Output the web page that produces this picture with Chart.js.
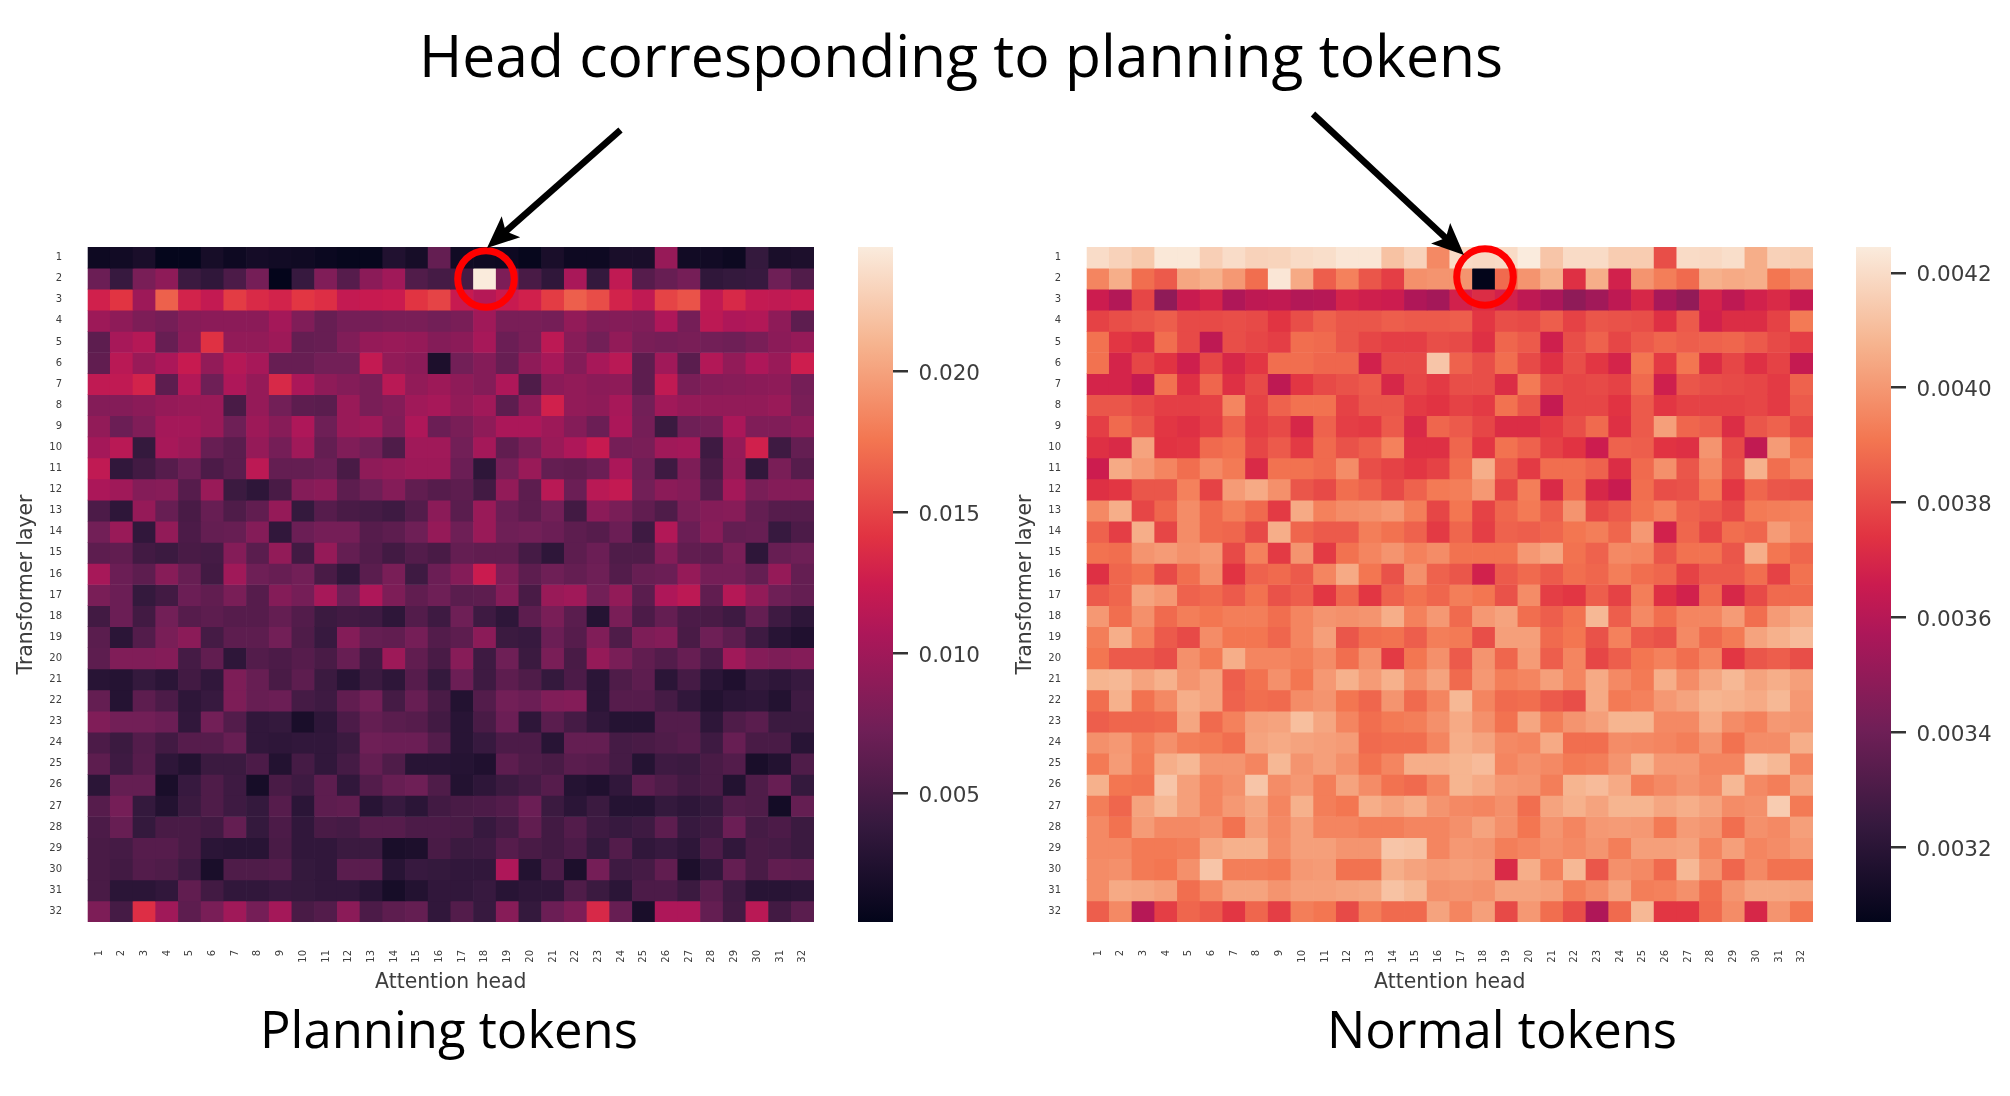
<!DOCTYPE html>
<html><head><meta charset="utf-8">
<script src="https://cdn.jsdelivr.net/npm/chart.js@4"></script>
<style>
html,body{margin:0;padding:0;background:#fff;width:2010px;height:1096px;overflow:hidden}
canvas{position:absolute}
#notes{position:absolute;left:0;top:0;z-index:5}
#notes text{font-family:"Open Sans";fill:#000}
</style></head><body>
<canvas id="heatA" width="840" height="800" style="left:0;top:240px"></canvas>
<canvas id="barA" width="160" height="700" style="left:848px;top:240px"></canvas>
<canvas id="heatB" width="840" height="800" style="left:999px;top:240px"></canvas>
<canvas id="barB" width="164" height="700" style="left:1846px;top:240px"></canvas>
<svg id="notes" width="2010" height="1096">
  <text x="961" y="77" text-anchor="middle" font-size="58.8">Head corresponding to planning tokens</text>
  <text x="449" y="1048" text-anchor="middle" font-size="50.8">Planning tokens</text>
  <text x="1502" y="1048" text-anchor="middle" font-size="50.8">Normal tokens</text>
  <circle cx="486" cy="279" r="28.3" fill="none" stroke="#ff0000" stroke-width="7"/>
  <circle cx="1485" cy="277" r="28.3" fill="none" stroke="#ff0000" stroke-width="7"/>
  <g id="arrows"></g>
</svg>
<script>
const columnLabels = Array.from({length:32},(_,i)=>String(i+1));
const layerLabels = columnLabels.slice();

// Planning tokens, in units of 0.0001
const planningRows = [
[12,15,20,6,6,18,12,17,15,13,10,7,7,25,18,66,14,13,12,7,20,12,12,20,20,95,15,15,11,38,20,22],
[70,40,78,90,42,35,52,76,5,40,82,58,88,100,55,48,48,244,80,50,35,105,38,118,58,68,76,35,38,40,72,55],
[128,142,98,165,130,120,146,135,130,143,138,120,122,124,142,150,122,112,122,128,146,164,155,130,118,150,158,118,134,120,118,122],
[98,90,80,76,86,88,88,88,102,82,68,76,76,78,78,74,78,100,78,78,76,92,82,84,82,108,76,116,108,110,90,62],
[62,104,112,68,88,140,92,92,98,66,68,82,94,96,94,84,88,104,70,78,116,86,74,92,78,76,78,74,72,78,88,94],
[64,114,96,106,122,92,112,104,68,68,74,74,120,92,88,22,74,84,68,90,104,84,104,114,62,100,60,110,92,108,96,126],
[118,118,130,62,110,72,108,94,134,106,90,84,78,114,92,98,90,84,108,54,88,92,88,90,62,118,78,84,86,88,90,76],
[84,84,88,94,96,96,50,94,74,62,60,96,78,84,100,104,92,100,62,88,128,92,90,104,74,100,94,92,92,92,96,78],
[92,70,82,102,102,96,72,98,86,108,72,96,100,82,108,70,78,90,106,106,98,84,70,106,76,42,72,76,106,82,82,88],
[102,114,38,104,98,68,60,94,76,100,66,82,74,54,100,100,74,102,64,78,96,108,122,76,78,100,102,44,94,128,44,66],
[118,36,46,58,70,52,60,116,66,66,70,50,90,94,98,98,70,34,76,96,66,64,70,106,72,44,80,50,92,36,78,58],
[106,100,84,86,58,96,42,34,50,84,88,62,72,84,64,58,62,46,92,62,114,70,114,120,74,88,84,58,102,78,84,84],
[52,34,94,68,50,68,54,64,94,38,58,50,48,44,56,88,60,96,70,62,74,46,88,78,64,54,78,84,86,66,58,58],
[74,96,36,92,52,66,68,84,36,70,76,76,58,62,72,94,72,96,72,74,70,62,58,70,44,110,70,86,66,68,40,52],
[62,64,46,42,50,48,84,60,92,46,94,66,56,46,56,50,66,64,64,48,34,62,70,54,54,84,64,62,78,34,68,72],
[104,70,62,86,68,46,100,72,68,74,50,36,60,78,44,70,84,124,80,62,72,66,72,56,68,70,94,76,76,66,94,66],
[78,70,38,46,70,64,78,58,84,76,104,72,108,80,64,72,60,62,84,50,96,100,74,92,60,108,116,64,112,92,72,66],
[46,70,46,74,58,62,58,58,66,56,42,46,44,34,56,44,72,44,34,62,78,60,28,78,52,66,52,50,44,66,44,34],
[60,32,56,78,88,48,62,62,74,54,40,84,66,64,76,56,62,88,42,40,70,58,82,54,80,84,50,72,62,44,30,24],
[62,82,82,84,48,64,34,56,52,58,50,68,46,98,64,50,86,44,72,42,78,50,94,78,64,56,68,52,100,84,80,84],
[30,28,38,32,46,36,80,68,50,62,42,30,42,34,58,38,70,44,62,54,38,52,32,54,62,32,48,32,24,38,34,40],
[66,28,62,52,34,40,80,68,70,48,44,64,74,48,68,50,26,56,74,70,82,84,32,58,58,48,36,26,32,34,26,44],
[82,74,74,70,36,74,56,36,38,20,34,52,66,60,58,46,30,50,70,34,60,48,36,28,28,56,56,34,54,60,42,42],
[52,42,56,46,58,58,68,36,34,36,36,42,72,70,70,56,30,40,52,52,30,66,66,48,50,54,58,44,68,50,50,30],
[62,44,58,34,26,42,42,52,26,48,36,48,66,54,30,30,28,24,62,54,50,60,58,48,28,44,42,50,56,20,26,54],
[32,66,66,20,40,54,44,18,50,44,62,36,56,68,72,54,26,34,42,48,58,28,24,36,62,54,46,50,26,54,68,38],
[58,76,38,26,42,54,44,38,58,32,62,64,30,40,32,46,50,52,56,70,42,32,42,28,28,38,34,38,56,54,16,66],
[52,68,38,50,50,46,66,38,52,36,50,48,58,58,52,52,50,40,48,64,46,56,44,40,44,62,40,44,70,48,52,42],
[50,48,58,58,50,32,30,30,50,36,36,42,42,20,22,50,42,44,58,50,46,52,38,56,36,40,34,52,36,50,48,42],
[50,46,56,54,44,20,54,54,56,38,36,60,60,30,40,38,36,36,108,26,52,22,76,44,48,64,22,36,66,50,64,62],
[50,32,32,36,64,46,36,36,40,38,36,36,30,18,26,36,36,40,30,34,34,54,42,32,52,52,42,60,44,30,30,32],
[80,48,138,100,62,78,100,76,102,50,56,88,52,62,66,36,56,40,86,38,70,80,134,68,20,108,108,66,46,114,46,60]
];

// Normal tokens, in units of 0.000001
const normalRows = [
[4200,4170,4140,4235,4235,4160,4200,4170,4175,4195,4205,4230,4230,4120,4170,3960,4195,4190,4195,4245,4130,4195,4195,4150,4150,3810,4195,4190,4205,4060,4165,4155],
[3950,4060,3890,3840,4040,4070,4000,3890,4230,4050,3850,3940,3830,3770,3980,3990,3990,3070,3880,3990,4070,3730,4060,3680,3990,3930,3880,4070,4050,4060,3910,3970],
[3660,3590,3790,3490,3650,3690,3580,3620,3630,3590,3600,3690,3670,3660,3580,3550,3680,3720,3680,3620,3570,3490,3540,3620,3700,3560,3500,3690,3620,3680,3710,3640],
[3780,3810,3830,3850,3800,3800,3810,3800,3745,3810,3860,3830,3830,3850,3840,3840,3850,3750,3810,3800,3850,3780,3830,3820,3810,3730,3840,3680,3720,3720,3780,3920],
[3900,3750,3720,3890,3800,3620,3810,3790,3770,3890,3880,3830,3790,3770,3770,3810,3800,3730,3870,3840,3670,3810,3860,3790,3840,3870,3850,3860,3870,3840,3800,3770],
[3900,3690,3790,3740,3670,3790,3700,3750,3890,3890,3870,3870,3680,3800,3800,4130,3860,3810,3890,3800,3730,3810,3750,3690,3910,3760,3910,3720,3790,3730,3780,3640],
[3690,3690,3640,3900,3730,3870,3730,3800,3620,3750,3800,3820,3840,3700,3790,3760,3810,3810,3720,3920,3810,3790,3800,3780,3880,3670,3830,3810,3800,3790,3760,3860],
[3830,3830,3800,3770,3770,3780,3950,3780,3860,3900,3900,3780,3830,3830,3760,3740,3780,3760,3900,3830,3640,3790,3790,3740,3840,3750,3780,3780,3780,3790,3760,3840],
[3770,3880,3830,3750,3730,3770,3860,3770,3800,3700,3860,3770,3760,3840,3710,3870,3840,3790,3720,3720,3760,3810,3880,3730,3840,4020,3870,3850,3720,3830,3860,3800],
[3730,3710,4030,3740,3750,3880,3900,3790,3840,3760,3880,3820,3850,3940,3730,3730,3870,3750,3900,3860,3780,3740,3660,3860,3850,3740,3730,3990,3800,3630,4010,3900],
[3660,4050,4000,3950,3890,3960,3920,3710,3900,3900,3880,3970,3810,3780,3750,3780,3890,4060,3850,3760,3890,3890,3860,3720,3880,3980,3830,3960,3820,4070,3890,3950],
[3730,3750,3830,3830,3940,3780,4010,4050,3980,3830,3800,3890,3860,3800,3860,3920,3930,4000,3790,3930,3710,3880,3700,3650,3890,3810,3820,3920,3750,3870,3830,3820],
[3960,4060,3790,3870,3970,3880,3930,3880,3760,4050,3940,3970,3980,4000,3930,3790,3910,3780,3870,3920,3850,3990,3800,3840,3900,3940,3860,3840,3800,3920,3930,3940],
[3860,3770,4060,3790,3970,3880,3870,3800,4060,3870,3840,3840,3930,3900,3860,3760,3870,3770,3860,3850,3870,3910,3930,3870,4000,3680,3870,3790,3890,3870,4010,3950],
[3900,3890,3990,4010,3980,4000,3800,3940,3760,3990,3760,3900,3950,3990,3940,3970,3900,3900,3900,4000,4040,3900,3860,3960,3950,3830,3900,3900,3830,4060,3910,3870],
[3730,3870,3900,3800,3890,3980,3740,3860,3880,3840,3950,4050,3910,3820,3980,3860,3830,3680,3840,3880,3840,3890,3870,3930,3890,3870,3780,3840,3840,3890,3780,3900],
[3840,3870,4030,4000,3860,3880,3840,3900,3820,3850,3750,3870,3750,3860,3900,3870,3930,3910,3820,3970,3770,3750,3850,3780,3930,3730,3680,3880,3700,3800,3880,3880],
[4000,3890,3980,3880,3930,3910,3930,3930,3890,3950,3990,3980,3990,4060,3940,4000,3880,4000,4030,3890,3850,3900,4090,3850,3960,3890,3950,3950,4010,3890,4010,4050],
[3930,4060,3940,3840,3800,3970,3910,3910,3870,3950,4020,3830,3890,3900,3850,3930,3920,3810,4020,4020,3880,3910,3820,3940,3840,3820,3960,3880,3920,4030,4070,4100],
[3910,3840,3840,3810,3980,3920,4060,3950,3950,3930,3970,3890,3980,3760,3910,3980,3840,3990,3870,4010,3850,3950,3790,3850,3910,3940,3890,3950,3750,3830,3850,3810],
[4080,4090,4030,4070,3990,4030,3850,3900,3980,3910,4000,4070,4010,4070,3970,4030,3880,4000,3930,3950,4020,3950,4050,3960,3920,4060,3970,4040,4090,4030,4060,4020],
[3890,4070,3900,3960,4060,4030,3860,3890,3880,3970,3990,3910,3870,3990,3880,3950,4090,3950,3880,3890,3840,3810,4050,3920,3940,4000,4030,4080,4070,4050,4090,4000],
[3850,3870,3870,3880,4040,3880,3940,4020,4030,4110,4040,3950,3890,3920,3930,3980,4050,3980,3900,4040,3930,3990,4020,4080,4080,3960,3960,4050,3970,3940,4000,3990],
[3980,4000,3930,3980,3930,3920,3890,4030,4050,4030,4020,4010,3880,3890,3890,3950,4060,4030,3960,3950,4050,3890,3890,3970,3960,3950,3930,3990,3900,3970,3970,4060],
[3920,4010,3920,4060,4090,3990,3990,3950,4090,3990,4020,3980,3900,3950,4060,4060,4080,4100,3950,3980,3960,3920,3930,3990,4080,4000,4000,3950,3950,4120,4090,3950],
[4070,3910,3900,4130,4020,3950,3980,4130,3970,4000,3930,4030,3970,3900,3880,3950,4080,4050,4000,3990,3930,4080,4100,4050,3930,3960,3990,3960,4090,3960,3930,4030],
[3930,3870,4030,4090,4020,3950,4000,4040,3950,4070,3930,3910,4060,4030,4060,3990,3960,3950,3980,3890,4030,4070,4030,4080,4080,4040,4060,4030,3970,3980,4150,3920],
[3960,3900,4010,3960,3960,3980,3900,4020,3960,4020,3950,3950,3930,3930,3950,3950,3980,4030,3980,3910,3990,3950,4000,4010,4000,3920,4010,3990,3890,3980,3960,4020],
[3960,3960,3920,3920,3930,4040,4070,4070,3970,4020,4020,3990,3990,4130,4120,3950,4000,3990,3930,3950,3980,3960,3990,3930,4020,4020,4030,3950,4020,3950,3970,4000],
[3970,3980,3920,3910,3980,4130,3930,3930,3920,4000,4010,3900,3900,4060,4030,4010,4020,4010,3710,4060,3940,4090,3830,3980,3960,3880,4090,3990,3870,3960,3900,3900],
[3970,4050,4040,4020,3890,3960,4030,4030,3990,4020,4020,4030,4040,4120,4090,3980,3990,3980,4030,4030,4020,3930,3970,4030,3930,3940,3980,3890,3990,4040,4040,4030],
[3850,3960,3600,3770,3870,3840,3750,3870,3770,3930,3910,3800,3930,3880,3880,4030,3950,4020,3800,4000,3890,3810,3580,3880,4090,3750,3750,3880,3970,3700,3990,3910]
];

const planningRange = [0.00044, 0.02443];
const normalRange = [0.00307, 0.004245];
const planningTicks = [0.005, 0.010, 0.015, 0.020];
const normalTicks = [0.0032, 0.0034, 0.0036, 0.0038, 0.0040, 0.0042];
const xTitle = 'Attention head';
const yTitle = 'Transformer layer';

// seaborn "rocket" colour map
const rocket = [[0,[3,5,26]],[1/7,[53,25,62]],[2/7,[112,31,87]],[3/7,[173,23,89]],[.5,[203,27,79]],[4/7,[225,51,66]],[5/7,[243,118,81]],[6/7,[246,180,143]],[1,[250,235,221]]];
function rocketAt(t){
  t=Math.max(0,Math.min(1,t));
  for(let i=1;i<rocket.length;i++){
    if(t<=rocket[i][0]){
      const [a,ca]=rocket[i-1],[b,cb]=rocket[i],f=(t-a)/(b-a);
      return 'rgb('+ca.map((c,k)=>Math.round(c+(cb[k]-c)*f)).join(',')+')';
    }
  }
  return 'rgb(250,235,221)';
}
const textCol='#3d3d3d', font='"DejaVu Sans"';
const noPad=s=>{s.paddingTop=0;s.paddingBottom=0;s.paddingLeft=0;s.paddingRight=0};

function heatmap(id, rows, unit, range){
  const datasets = rows.map((row,i)=>({
    grouped:false, barPercentage:1, categoryPercentage:1, borderWidth:0,
    data: row.map((v,j)=>({x:columnLabels[j], y:[i,i+1], v:v*unit})),
    backgroundColor: c=> c.raw ? rocketAt((c.raw.v-range[0])/(range[1]-range[0])) : '#000'
  }));
  new Chart(document.getElementById(id),{
    type:'bar',
    data:{labels:columnLabels,datasets},
    options:{
      responsive:false,animation:false,
      layout:{padding:{top:7,right:26,left:0,bottom:0}},
      plugins:{legend:{display:false},tooltip:{enabled:false},title:{display:false}},
      scales:{
        x:{type:'category',grid:{display:false,drawTicks:false},border:{display:false},
           afterFit:s=>{s.height=118;noPad(s)},
           ticks:{autoSkip:false,minRotation:90,maxRotation:90,padding:28,color:textCol,font:{family:font,size:10}},
           title:{display:true,text:xTitle,color:textCol,font:{family:font,size:20.4},padding:{top:0,bottom:45.5}}},
        y:{type:'linear',reverse:true,min:0,max:32,grid:{display:false,drawTicks:false},border:{display:false},
           afterFit:s=>{s.width=87.6;noPad(s)},
           afterBuildTicks:s=>{s.ticks=layerLabels.map((_,i)=>({value:i+.5}))},
           ticks:{autoSkip:false,padding:25.6,color:textCol,font:{family:font,size:10},callback:v=>layerLabels[Math.round(v-.5)]},
           title:{display:true,text:yTitle,color:textCol,font:{family:font,size:20.4},padding:{top:14.5,bottom:0}}}
      }
    }
  });
}
function colorbar(id, range, ticks, digits, w){
  new Chart(document.getElementById(id),{
    type:'bar',
    data:{labels:[''],datasets:[{
      barPercentage:1,categoryPercentage:1,borderWidth:0,
      data:[range],
      backgroundColor:c=>{
        const y=c.chart.scales.y;
        if(!y||!c.chart.chartArea) return '#000';
        const g=c.chart.ctx.createLinearGradient(0,y.getPixelForValue(range[0]),0,y.getPixelForValue(range[1]));
        rocket.forEach(([t])=>g.addColorStop(t,rocketAt(t)));
        return g;
      }
    }]},
    options:{
      responsive:false,animation:false,
      layout:{padding:{top:7,bottom:18,left:10,right:0}},
      plugins:{legend:{display:false},tooltip:{enabled:false}},
      scales:{
        x:{display:false},
        y:{type:'linear',position:'right',min:range[0],max:range[1],
           border:{display:false},
           afterFit:s=>{s.width=w-45;noPad(s)},
           grid:{drawOnChartArea:false,drawTicks:true,tickLength:15,tickColor:'#333',lineWidth:2.5,tickWidth:2.5},
           afterBuildTicks:s=>{s.ticks=ticks.map(v=>({value:v}))},
           ticks:{autoSkip:false,padding:10.5,labelOffset:3,color:textCol,font:{family:font,size:21.5},callback:v=>v.toFixed(digits)}}
      }
    }
  });
}
heatmap('heatA',planningRows,1e-4,planningRange);
heatmap('heatB',normalRows,1e-6,normalRange);
colorbar('barA',planningRange,planningTicks,3,160);
colorbar('barB',normalRange,normalTicks,4,164);

// annotation arrows
function arrow(x1,y1,x2,y2){
  const L=Math.hypot(x2-x1,y2-y1),ux=(x2-x1)/L,uy=(y2-y1)/L,nx=-uy,ny=ux;
  const p=(a,b)=>(x2-ux*a+nx*b)+','+(y2-uy*a+ny*b);
  const g=document.getElementById('arrows');
  g.innerHTML+=`<line x1="${x1}" y1="${y1}" x2="${x2-ux*20}" y2="${y2-uy*20}" stroke="#000" stroke-width="6.5"/>`+
    `<polygon points="${p(0,0)} ${p(32,14)} ${p(25,0)} ${p(32,-14)}" fill="#000"/>`;
}
arrow(620.5,130,487,248);
arrow(1313,114,1464,255);
</script>
</body></html>
